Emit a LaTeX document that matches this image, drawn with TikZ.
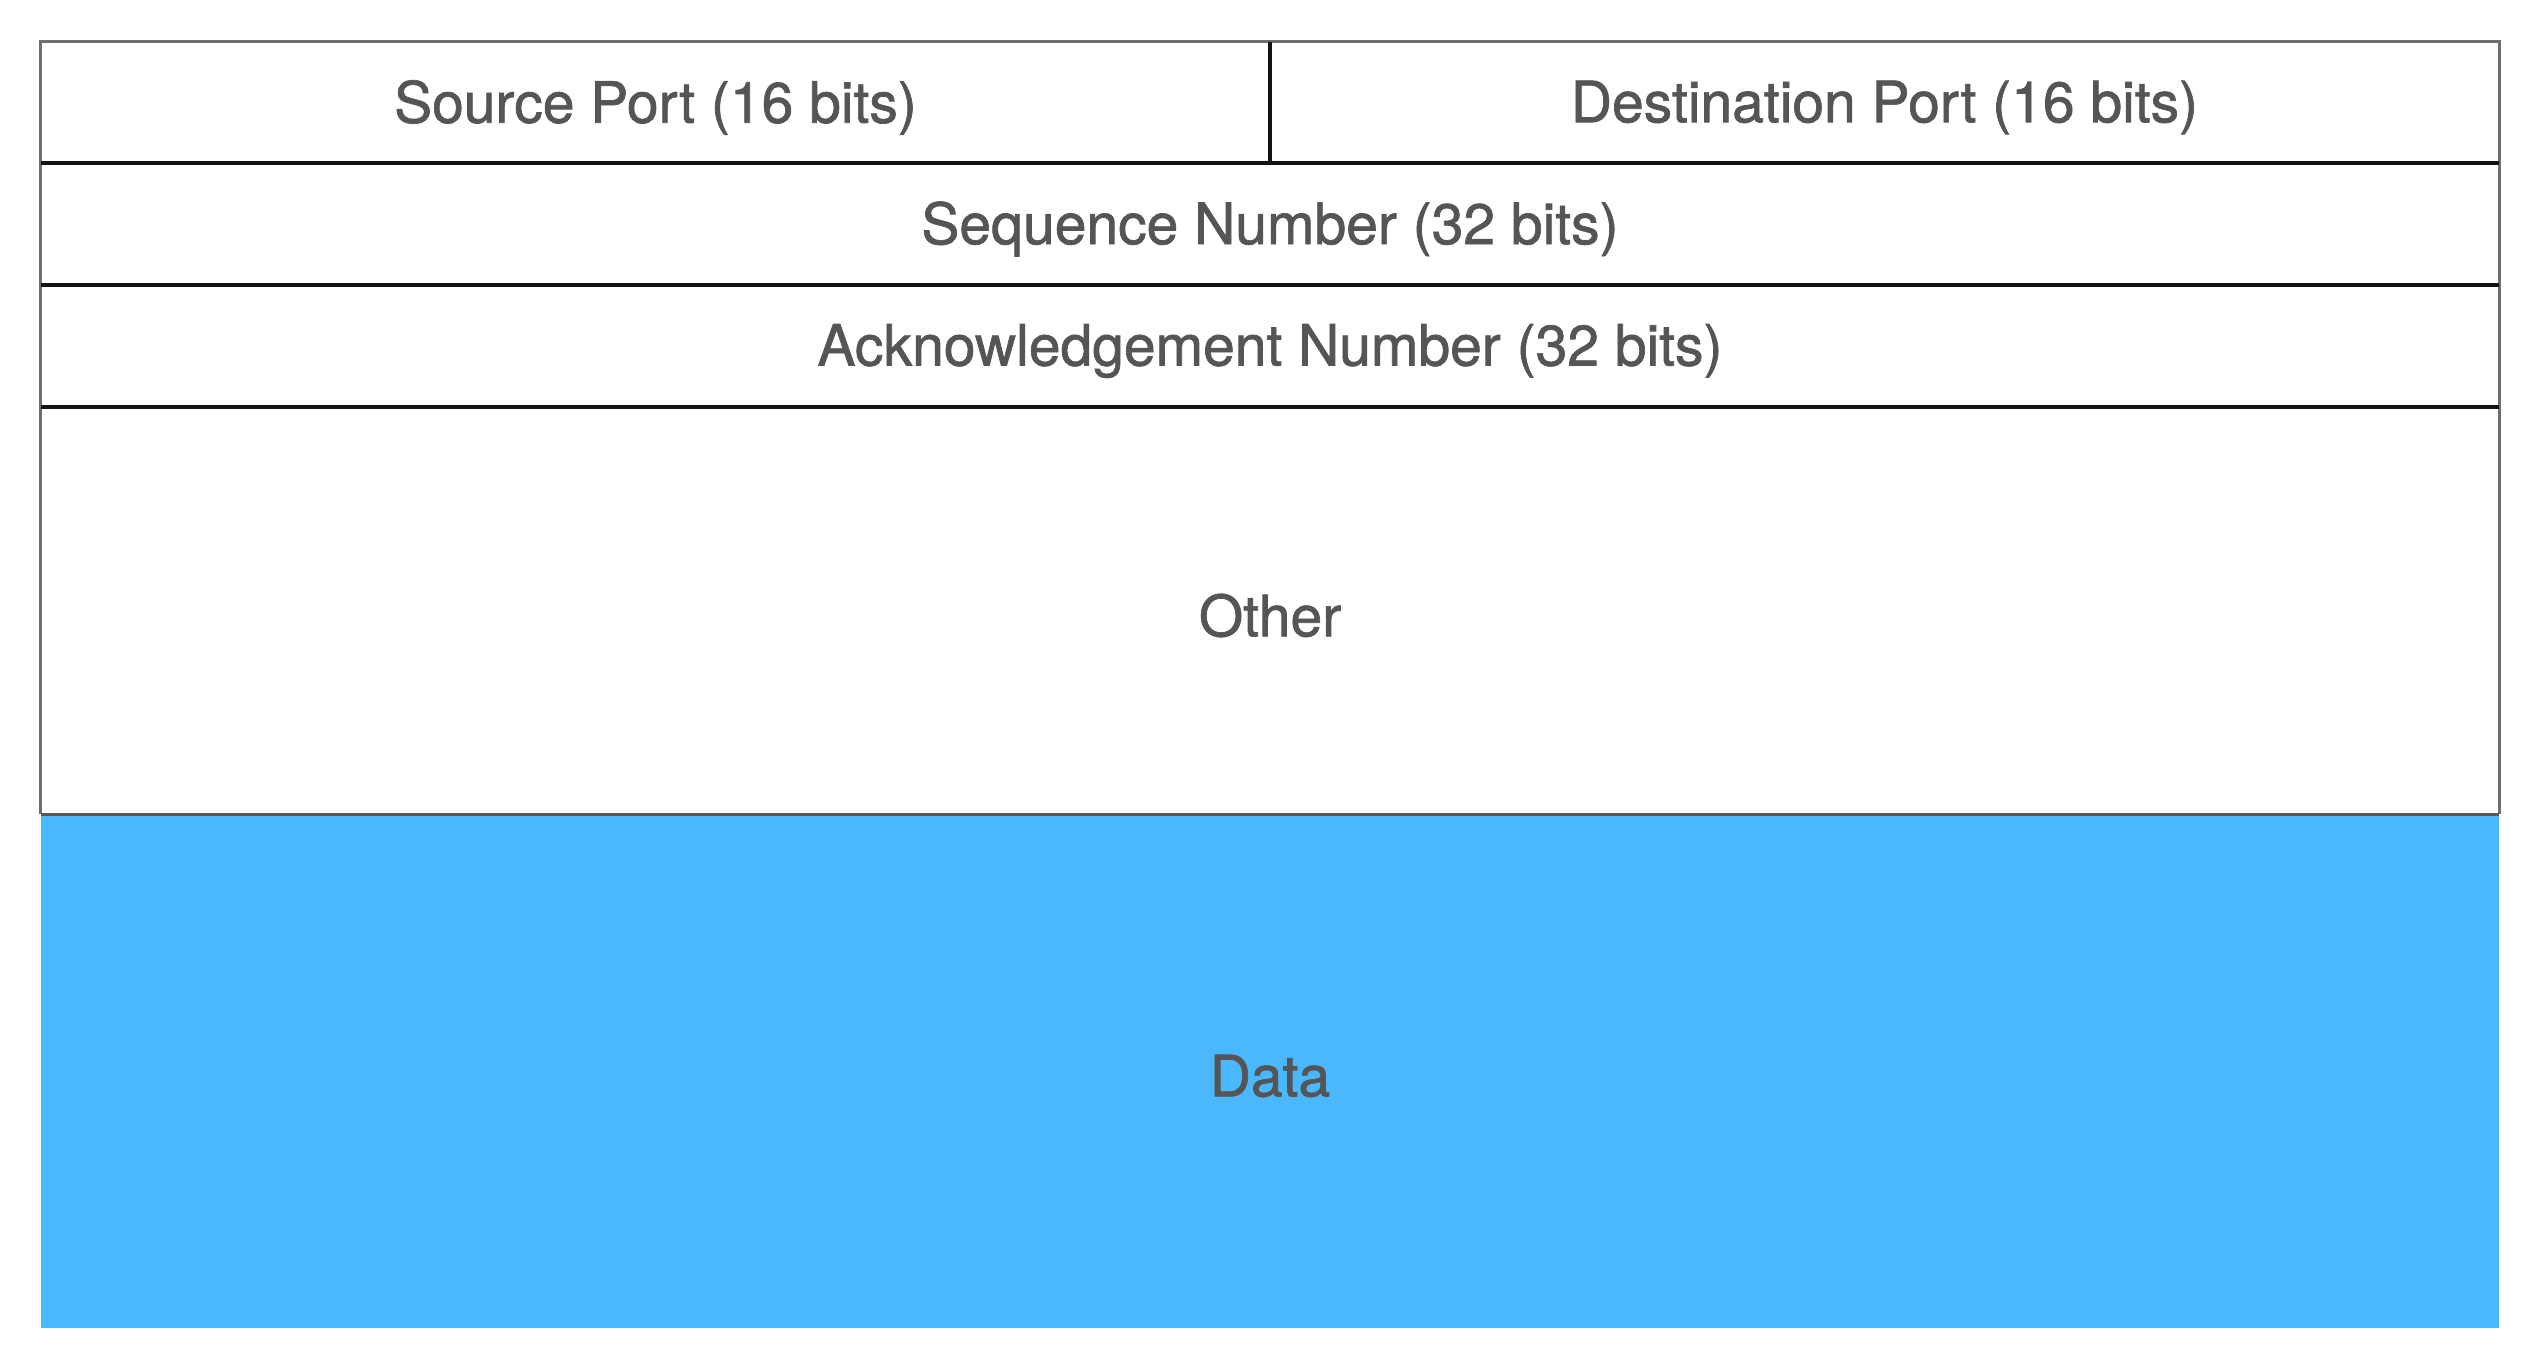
\documentclass[tikz,border=0pt]{standalone}
\usepackage{fontspec}
\newfontfamily\lblfont[FakeBold=1.2]{TeX Gyre Heros}
\definecolor{txt}{RGB}{85,85,85}
\definecolor{databg}{RGB}{75,184,253}
\definecolor{outerc}{RGB}{110,110,110}
\definecolor{innerc}{RGB}{20,20,20}
\tikzset{
  cell/.style={rectangle, draw=none, inner sep=0pt},
  lbl/.style={inner sep=0pt, text=txt, font=\lblfont\fontsize{57}{68}\selectfont, yshift=-5pt},
  outerline/.style={draw=outerc, line width=3pt},
  innerline/.style={draw=innerc, line width=3.5pt},
}
\begin{document}
\begin{tikzpicture}[x=1pt,y=-1pt]
\useasboundingbox (0,0) rectangle (2540,1372);
% cells
\node[cell, minimum width=1229pt, minimum height=121pt] (src) at (655.5,102.5) {};
\node[cell, minimum width=1229pt, minimum height=121pt] (dst) at (1884.5,102.5) {};
\node[cell, minimum width=2458pt, minimum height=122pt] (seq) at (1270,224) {};
\node[cell, minimum width=2458pt, minimum height=122pt] (ack) at (1270,346) {};
\node[cell, minimum width=2458pt, minimum height=407pt] (oth) at (1270,610.5) {};
\node[cell, fill=databg, minimum width=2458pt, minimum height=514pt] (dat) at (1270,1071) {};
% labels
\node[lbl] (srcl) at (src.center) {Source Port (16 bits)};
\node[lbl] (dstl) at (dst.center) {Destination Port (16 bits)};
\node[lbl] (seql) at (seq.center) {Sequence Number (32 bits)};
\node[lbl] (ackl) at (ack.center) {Acknowledgement Number (32 bits)};
\node[lbl] (othl) at (oth.center) {Other};
\node[lbl] (datl) at (dat.center) {Data};
% borders
\draw[outerline] (oth.south west) -- (src.north west) -- (dst.north east) -- (oth.south east);
\draw[outerline, draw=outerc!80!black] (oth.south west) -- (oth.south east);
\draw[innerline] (src.south west) -- (dst.south east);
\draw[innerline] (seq.south west) -- (seq.south east);
\draw[innerline] (ack.south west) -- (ack.south east);
\draw[innerline] (src.north east) -- (src.south east);
\end{tikzpicture}
\end{document}
